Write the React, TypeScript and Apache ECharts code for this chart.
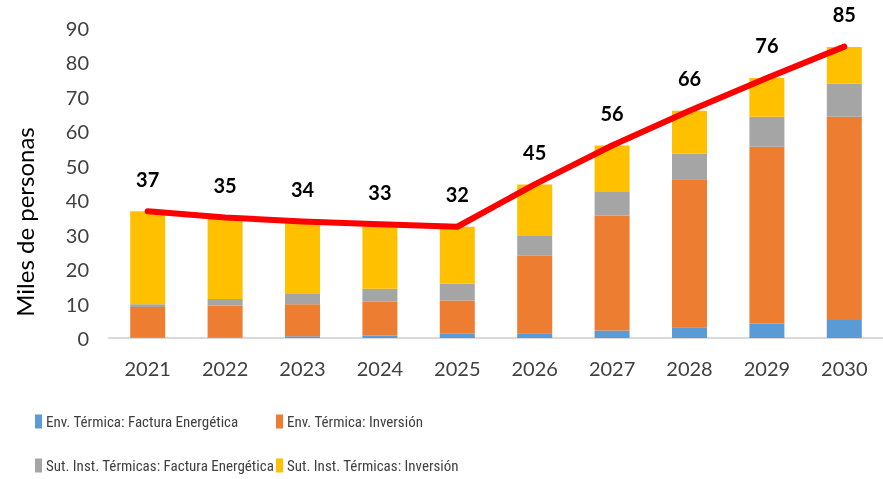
import React, { useEffect, useRef } from "react";
import * as echarts from "echarts";

const years = ["2021", "2022", "2023", "2024", "2025", "2026", "2027", "2028", "2029", "2030"];
const envFactura = [0.1, 0.1, 0.5, 0.7, 1.2, 1.4, 2.2, 3.1, 4.2, 5.2];
const envInversion = [8.9, 9.3, 9.3, 9.8, 9.7, 22.5, 33.4, 43.0, 51.3, 59.0];
const sutFactura = [0.8, 1.9, 3.0, 3.8, 4.9, 5.7, 6.8, 7.5, 8.7, 9.7];
const sutInversion = [27.0, 23.7, 21.2, 18.7, 16.5, 15.0, 13.5, 12.4, 11.3, 10.6];
const totalLine = [36.8, 35.0, 33.8, 33.0, 32.3, 44.6, 55.9, 66.0, 75.5, 84.6];
const seriesNames = [
  "Env. Térmica: Factura Energética",
  "Env. Térmica: Inversión",
  "Sut. Inst. Térmicas: Factura Energética",
  "Sut. Inst. Térmicas: Inversión",
];
const colors = ["#5B9BD5", "#ED7D31", "#A5A5A5", "#FFC000"];

const FONT = "Lato";
const NARROW = "'Roboto Condensed', Lato";

export default function App() {
  const ref = useRef<HTMLDivElement>(null);
  useEffect(() => {
    if (!ref.current) return;
    const chart = echarts.init(ref.current, undefined, { renderer: "svg" });
    const barData = [envFactura, envInversion, sutFactura, sutInversion];
    const legendPos = [
      { left: 35, top: 414 },
      { left: 276, top: 414 },
      { left: 35, top: 458 },
      { left: 276, top: 458 },
    ];
    chart.setOption({
      animation: false,
      textStyle: { fontFamily: FONT },
      grid: { left: 109, right: -10, top: 28, bottom: 141, containLabel: false },
      legend: seriesNames.map((n, i) => ({
        data: [n],
        left: legendPos[i].left,
        top: legendPos[i].top,
        icon: "rect",
        itemWidth: 7,
        itemHeight: 14,
        itemGap: 0,
        padding: 0,
        textStyle: { fontFamily: NARROW, fontSize: 15, color: "#404040", padding: [0, 0, 0, -1] },
        selectedMode: false,
      })),
      xAxis: {
        type: "category",
        data: years,
        axisLine: { lineStyle: { color: "#D9D9D9", width: 2 } },
        axisTick: { show: false },
        axisLabel: { color: "#404040", fontSize: 20, margin: 20, fontFamily: FONT },
      },
      yAxis: {
        type: "value",
        min: 0,
        max: 90,
        interval: 10,
        splitLine: { show: false },
        axisLine: { show: false },
        axisTick: { show: false },
        axisLabel: { color: "#404040", fontSize: 20, margin: 20, fontFamily: FONT },
      },
      graphic: [
        {
          type: "text",
          x: 24,
          y: 222,
          rotation: Math.PI / 2,
          style: {
            text: "Miles de personas",
            fontSize: 24,
            fontFamily: FONT,
            fill: "#000000",
            align: "center",
            verticalAlign: "middle",
          },
        },
      ],
      series: [
        ...barData.map((d, i) => ({
          name: seriesNames[i],
          type: "bar",
          stack: "total",
          data: d,
          barWidth: 35,
          itemStyle: { color: colors[i] },
        })),
        {
          name: "Total",
          type: "line",
          data: totalLine,
          symbol: "circle",
          symbolSize: 1,
          showSymbol: true,
          itemStyle: { color: "#FF0000" },
          lineStyle: { color: "#FF0000", width: 6, cap: "round", join: "round" },
          label: {
            show: true,
            position: "top",
            distance: 22,
            fontSize: 20,
            fontWeight: "bold",
            color: "#000000",
            fontFamily: FONT,
            formatter: (p: any) => String(Math.round(p.value)),
          },
          z: 10,
        },
      ],
    });
    return () => chart.dispose();
  }, []);
  return (
    <div
      ref={ref}
      style={{ position: "fixed", left: 0, top: 0, width: 883, height: 479 }}
    />
  );
}
